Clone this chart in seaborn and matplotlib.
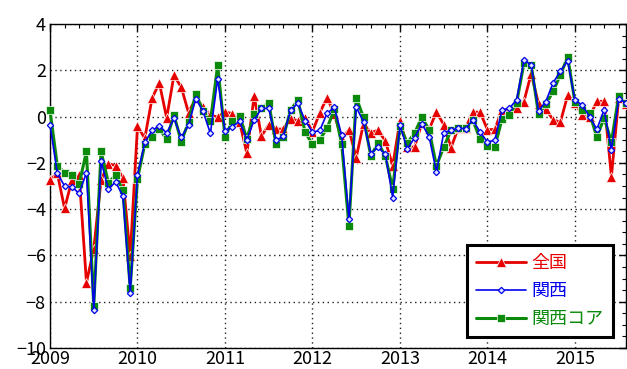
import numpy as np
import pandas as pd
import matplotlib
matplotlib.use("Agg")
import matplotlib.pyplot as plt
from matplotlib.ticker import MultipleLocator
import seaborn as sns

# Monthly series, Jan 2009 - Aug 2015
start_year = 2009
n_months = 80

zenkoku = [
    -2.75, -2.45, -3.97, -2.75, -2.53, -7.17, -5.73, -2.75, -2.03, -2.12, -2.65, -6.02,
    -0.42, -0.94, 0.80, 1.45, -0.06, 1.78, 1.27, 0.17, 0.80, 0.42, 0.06, -0.02,
    0.20, 0.13, -0.23, -1.59, 0.89, -0.85, -0.35, -0.54, -0.54, -0.09, -0.18, -0.07,
    -0.65, 0.16, 0.82, 0.10, -0.97, -0.57, -1.77, -0.30, -0.70, -0.59, -1.06, -2.13,
    -0.18, -1.32, -1.32, -0.28, -0.55, 0.20, -0.35, -1.34, -0.50, -0.50, 0.20, 0.18,
    -0.57, -0.55, 0.29, 0.29, 0.38, 0.65, 1.86, 0.55, 0.32, -0.14, -0.24, 0.92,
    0.60, 0.07, -0.02, 0.66, 0.66, -2.59, 0.80, 0.55,
]
kansai = [
    -0.35, -2.45, -3.00, -3.04, -3.32, -2.42, -8.35, -1.92, -3.14, -2.82, -3.44, -7.63,
    -2.52, -1.12, -0.60, -0.40, -0.71, -0.08, -0.90, -0.37, 0.78, 0.22, -0.73, 1.63,
    -0.62, -0.43, -0.21, -1.00, -0.16, 0.35, 0.36, -1.02, -0.86, 0.29, 0.57, -0.18,
    -0.67, -0.60, 0.14, 0.40, -0.80, -4.42, 0.41, -0.23, -1.60, -1.33, -1.63, -3.50,
    -0.38, -1.40, -0.92, -0.31, -0.87, -2.40, -0.70, -0.59, -0.50, -0.52, -0.14, -0.68,
    -1.10, -1.02, 0.28, 0.36, 0.72, 2.43, 2.24, 0.23, 0.65, 1.45, 1.97, 2.40,
    0.70, 0.50, 0.00, -0.55, 0.29, -1.45, 0.75, 0.60,
]
kansai_core = [
    0.27, -2.12, -2.42, -2.54, -2.92, -1.50, -8.20, -1.50, -2.85, -2.54, -3.18, -7.42,
    -2.68, -1.20, -0.90, -0.52, -0.99, 0.08, -1.09, -0.23, 0.98, 0.23, -0.21, 2.22,
    -0.89, -0.20, 0.02, -0.95, 0.09, 0.39, 0.59, -1.20, -0.88, 0.29, 0.71, -0.68,
    -1.20, -1.00, -0.50, 0.31, -1.18, -4.72, 0.82, -0.04, -1.71, -1.13, -1.71, -3.12,
    -0.40, -1.14, -0.72, -0.02, -0.58, -2.13, -1.32, -0.59, -0.50, -0.50, -0.16, -0.99,
    -1.28, -1.30, -0.11, 0.08, 0.60, 2.30, 2.22, 0.10, 0.53, 1.09, 1.80, 2.58,
    0.62, 0.30, 0.14, -0.88, -0.06, -1.09, 0.90, 0.57,
]

series_names = ["全国", "関西", "関西コア"]
year_ticks = [2009, 2010, 2011, 2012, 2013, 2014, 2015]

t = start_year + np.arange(n_months) / 12.0
df = pd.DataFrame({"t": t, "全国": zenkoku, "関西": kansai, "関西コア": kansai_core})

sns.set_theme(style="white")
plt.rcParams["font.family"] = ["Liberation Sans Narrow", "Noto Sans CJK JP", "DejaVu Sans"]
plt.rcParams["axes.unicode_minus"] = True

fig = plt.figure(figsize=(6.27, 3.69), dpi=100)
ax = fig.add_axes([50 / 627, 1 - 348 / 369, 576 / 627, 324 / 369])
ax.set_facecolor("white")

styles = {
    "全国": dict(color="#e60000", marker="^", markersize=6.5, linewidth=2.0,
               markeredgewidth=0.5, zorder=3),
    "関西コア": dict(color="#0b8a0b", marker="s", markersize=6.3, linewidth=2.2,
                 markeredgewidth=0.5, zorder=4),
    "関西": dict(color="#0000ee", marker="D", markersize=3.2, linewidth=1.2,
               markerfacecolor="#dfe6ff", markeredgecolor="#0000ee",
               markeredgewidth=0.9, zorder=5),
}
for name in ["全国", "関西コア", "関西"]:
    sns.lineplot(data=df, x="t", y=name, ax=ax, label=name, clip_on=False, **styles[name])

ax.set_xlim(start_year, start_year + (n_months - 1) / 12.0)
ax.set_ylim(-10, 4)
ax.set_xticks(year_ticks)
ax.set_xticklabels([str(y) for y in year_ticks])
ax.xaxis.set_minor_locator(MultipleLocator(2 / 12))
ax.yaxis.set_major_locator(MultipleLocator(2))
ax.yaxis.set_minor_locator(MultipleLocator(0.5))
ax.set_xlabel("")
ax.set_ylabel("")

ax.grid(True, which="major", color="#222222", linestyle=(0, (1, 2.5)), linewidth=1.0)
ax.set_axisbelow(True)
ax.tick_params(which="both", direction="in", top=True, right=True, colors="black",
               labelsize=13)
ax.tick_params(axis="x", which="major", pad=1.5)
ax.tick_params(axis="y", which="major", pad=3)
ax.tick_params(which="major", length=5, width=1)
ax.tick_params(which="minor", length=3, width=0.8)
for s in ax.spines.values():
    s.set_color("black")
    s.set_linewidth(1.0)

h, l = ax.get_legend_handles_labels()
order = [l.index(n) for n in series_names]
leg = ax.legend([h[i] for i in order], [l[i] for i in order],
                loc="lower right", bbox_to_anchor=(0.977, 0.034),
                prop={"family": ["Noto Sans CJK JP", "DejaVu Sans"], "size": 13},
                handlelength=2.8, handletextpad=0.3, labelspacing=0.55,
                borderpad=0.5, borderaxespad=0, frameon=True, fancybox=False,
                framealpha=1, edgecolor="black")
leg.get_frame().set_linewidth(2.2)
for txt, name in zip(leg.get_texts(), series_names):
    txt.set_color(styles[name]["color"])

fig.savefig("out.png", dpi=100)
